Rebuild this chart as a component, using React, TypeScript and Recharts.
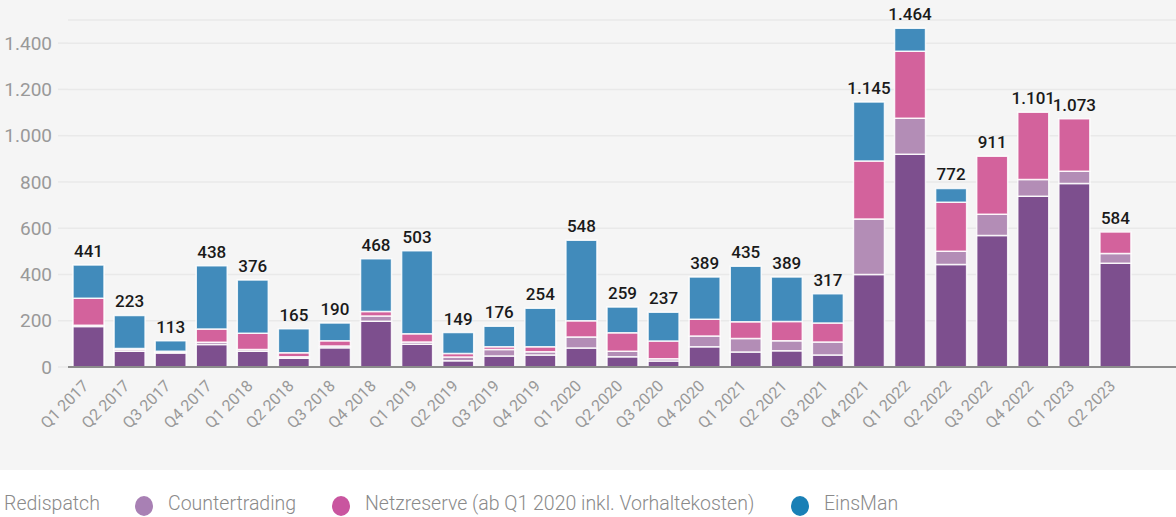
import React from "react";
import { BarChart, Bar, XAxis, YAxis, CartesianGrid, LabelList } from "recharts";

const quarters = [
  "Q1 2017", "Q2 2017", "Q3 2017", "Q4 2017",
  "Q1 2018", "Q2 2018", "Q3 2018", "Q4 2018",
  "Q1 2019", "Q2 2019", "Q3 2019", "Q4 2019",
  "Q1 2020", "Q2 2020", "Q3 2020", "Q4 2020",
  "Q1 2021", "Q2 2021", "Q3 2021", "Q4 2021",
  "Q1 2022", "Q2 2022", "Q3 2022", "Q4 2022",
  "Q1 2023", "Q2 2023",
];
const redispatch = [175, 68, 60, 97, 68, 38, 83, 198, 98, 27, 48, 52, 82, 44, 26, 87, 65, 70, 52, 400, 920, 443, 568, 738, 793, 448];
const countertrading = [5, 8, 4, 10, 8, 6, 8, 22, 10, 16, 28, 14, 48, 24, 10, 47, 58, 44, 56, 240, 155, 57, 92, 72, 53, 43];
const netzreserve = [117, 4, 4, 57, 70, 18, 22, 20, 36, 15, 12, 22, 70, 80, 76, 72, 73, 83, 82, 250, 290, 212, 251, 291, 227, 93];
const einsman = [144, 143, 45, 274, 230, 103, 77, 228, 359, 91, 88, 166, 348, 111, 125, 183, 239, 192, 127, 255, 99, 60, 0, 0, 0, 0];
const totals = [441, 223, 113, 438, 376, 165, 190, 468, 503, 149, 176, 254, 548, 259, 237, 389, 435, 389, 317, 1145, 1464, 772, 911, 1101, 1073, 584];
const yTicks = [0, 200, 400, 600, 800, 1000, 1200, 1400];

const seriesNames = ["Redispatch", "Countertrading", "Netzreserve (ab Q1 2020 inkl. Vorhaltekosten)", "EinsMan"];
const barColors = ["#7d4f8e", "#b38db6", "#d3629c", "#418bbb"];
const legendColors = ["#7b4a92", "#a880b4", "#c9559f", "#1a80b6"];
const seriesValues = [redispatch, countertrading, netzreserve, einsman];

const data = quarters.map((q, i) => ({
  q,
  r: redispatch[i],
  c: countertrading[i],
  n: netzreserve[i],
  e: einsman[i],
  total: totals[i],
}));

const fmt = (v: number) => String(v).replace(/\B(?=(\d{3})+(?!\d))/g, ".");

const FONT = "Roboto, 'Open Sans', sans-serif";

const XTick = (props: any) => {
  const { x, y, payload } = props;
  const tx = x + 1;
  const ty = y + 12;
  return (
    <text
      x={tx}
      y={ty}
      transform={`rotate(-45, ${tx}, ${ty})`}
      textAnchor="end"
      fill="#999999"
      fontSize={16}
      fontFamily={FONT}
      fontWeight={400}
    >
      {payload.value}
    </text>
  );
};

// label drawn on the topmost non-empty segment of each stack
const makeTotalLabel = (seriesIdx: number) => (props: any) => {
  const { x, y, width, index } = props;
  let top = -1;
  for (let s = seriesValues.length - 1; s >= 0; s--) {
    if (seriesValues[s][index] > 0) {
      top = s;
      break;
    }
  }
  if (top !== seriesIdx) return null;
  return (
    <text
      x={x + width / 2}
      y={y - 8}
      textAnchor="middle"
      fill="#1a1a1a"
      fontSize={17}
      fontWeight={500}
      fontFamily={FONT}
    >
      {fmt(totals[index])}
    </text>
  );
};

const legendPos = [
  { icon: -14, text: 4 },
  { icon: 144, text: 168 },
  { icon: 341, text: 365 },
  { icon: 800, text: 824 },
];

export default function App() {
  const keys = ["r", "c", "n", "e"];
  return (
    <div style={{ position: "absolute", left: 0, top: 0, width: 1176, height: 517, background: "#ffffff", overflow: "hidden", fontFamily: FONT }}>
      <div style={{ position: "absolute", left: 0, top: 0, width: 1176, height: 470, background: "#f5f5f5" }}>
        <BarChart width={1176} height={470} data={data} margin={{ top: 20, right: 0, bottom: 0, left: 0 }} barSize={31}>
          <CartesianGrid vertical={false} stroke="#e9e9e9" strokeWidth={1.5} />
          <YAxis
            width={68}
            domain={[0, 1500]}
            ticks={yTicks}
            interval={0}
            axisLine={false}
            tickLine={{ stroke: "#e9e9e9", strokeWidth: 1.5 }}
            tickSize={10}
            tickMargin={6}
            tickFormatter={fmt}
            tick={{ fill: "#999999", fontSize: 19, fontFamily: FONT, fontWeight: 400 }}
          />
          <XAxis
            dataKey="q"
            height={103}
            interval={0}
            padding={{ left: 0, right: 40 }}
            axisLine={{ stroke: "#8c8c8c", strokeWidth: 2 }}
            tickLine={false}
            tick={<XTick />}
          />
          {keys.map((k, i) => (
            <Bar
              key={k}
              dataKey={k}
              name={seriesNames[i]}
              stackId="a"
              fill={barColors[i]}
              stroke="#ffffff"
              strokeWidth={1.5}
              strokeOpacity={0.85}
              isAnimationActive={false}
            >
              <LabelList dataKey="total" content={makeTotalLabel(i)} />
            </Bar>
          ))}
        </BarChart>
      </div>
      {seriesNames.map((name, i) => (
        <React.Fragment key={name}>
          <div
            style={{
              position: "absolute",
              left: legendPos[i].icon - 9,
              top: 496,
              width: 18,
              height: 20,
              borderRadius: "50%",
              background: legendColors[i],
            }}
          />
          <div
            style={{
              position: "absolute",
              left: legendPos[i].text,
              top: 491,
              fontSize: 19.5,
              lineHeight: "26px",
              color: "#8a8a8a",
              fontWeight: 300,
              whiteSpace: "nowrap",
            }}
          >
            {name}
          </div>
        </React.Fragment>
      ))}
    </div>
  );
}
